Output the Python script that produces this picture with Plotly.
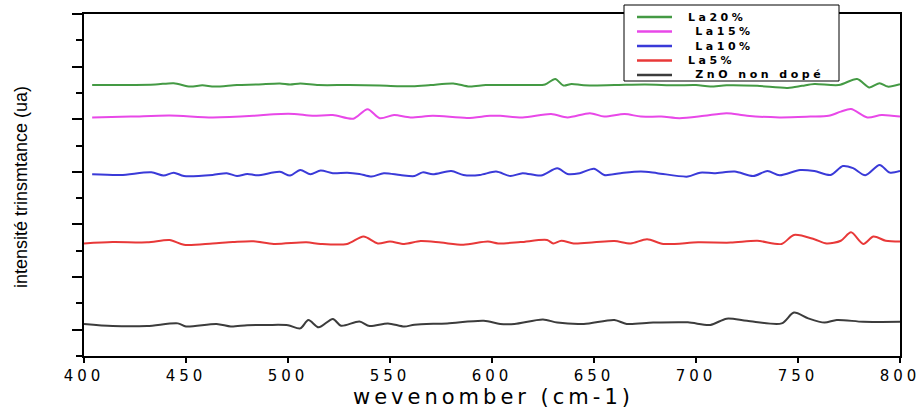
import plotly.graph_objects as go

# FTIR-style transmittance traces, offset vertically (arbitrary units)
wn_la20 = [404, 420, 435, 444, 452, 458, 464, 475, 485, 496, 501, 506, 515, 530, 545, 561, 570, 581, 589, 597,
           610, 620, 626, 631, 635, 639, 645, 660, 675, 690, 700, 707, 715, 730, 745, 752, 758, 770, 779, 785,
           790, 794, 800]
y_la20 = [10.30, 10.30, 10.32, 10.37, 10.24, 10.29, 10.24, 10.30, 10.32, 10.36, 10.32, 10.36, 10.30, 10.30,
          10.28, 10.25, 10.30, 10.36, 10.24, 10.30, 10.30, 10.30, 10.32, 10.53, 10.28, 10.34, 10.29, 10.30,
          10.32, 10.29, 10.30, 10.24, 10.29, 10.27, 10.19, 10.27, 10.34, 10.30, 10.53, 10.21, 10.37, 10.24, 10.33]

wn_la15 = [404, 423, 442, 463, 483, 493, 503, 512, 522, 532, 539, 545, 552, 560, 571, 588, 599, 604, 615, 629,
           637, 648, 655, 665, 673, 683, 692, 704, 715, 725, 741, 756, 765, 771, 776, 784, 791, 800]
y_la15 = [9.07, 9.10, 9.14, 9.07, 9.13, 9.19, 9.20, 9.13, 9.16, 9.02, 9.38, 9.04, 9.16, 9.07, 9.13, 9.05, 9.13,
          9.13, 9.07, 9.20, 9.07, 9.23, 9.10, 9.20, 9.10, 9.10, 9.04, 9.13, 9.23, 9.13, 9.07, 9.10, 9.13, 9.29,
          9.39, 9.07, 9.16, 9.10]

wn_la10 = [404, 418, 433, 439, 444, 449, 463, 470, 475, 480, 485, 496, 501, 506, 511, 516, 522, 529, 535, 541,
           547, 555, 562, 566, 571, 580, 586, 594, 602, 609, 615, 624, 632, 637, 643, 650, 655, 663, 673, 681,
           696, 702, 709, 719, 728, 735, 741, 751, 758, 766, 772, 777, 783, 790, 795, 800]
y_la10 = [6.91, 6.88, 6.98, 6.86, 6.97, 6.84, 6.88, 6.95, 6.84, 6.92, 6.87, 7.00, 6.86, 7.07, 6.91, 7.05, 6.95,
          6.97, 6.92, 6.82, 6.95, 6.88, 6.84, 6.98, 6.91, 7.03, 6.88, 6.88, 7.01, 6.84, 6.95, 6.86, 7.14, 6.92,
          6.95, 7.12, 6.88, 6.95, 7.01, 6.95, 6.82, 6.97, 6.95, 7.01, 6.84, 7.03, 6.87, 7.07, 7.03, 6.88, 7.22,
          7.14, 6.87, 7.26, 6.97, 7.03]

wn_la5 = [400, 414, 431, 442, 449, 463, 473, 483, 493, 509, 516, 529, 537, 544, 550, 557, 565, 575, 586, 598,
          603, 614, 627, 630, 634, 640, 650, 660, 668, 676, 684, 701, 717, 730, 742, 748, 758, 764, 771, 776,
          782, 787, 793, 800]
y_la5 = [4.28, 4.33, 4.32, 4.41, 4.23, 4.28, 4.33, 4.36, 4.26, 4.32, 4.26, 4.26, 4.54, 4.28, 4.35, 4.26, 4.37,
         4.31, 4.23, 4.35, 4.28, 4.33, 4.41, 4.28, 4.38, 4.28, 4.32, 4.37, 4.28, 4.44, 4.26, 4.32, 4.31, 4.38,
         4.26, 4.60, 4.44, 4.28, 4.38, 4.70, 4.26, 4.54, 4.38, 4.35]

wn_zno = [400, 414, 431, 446, 450, 465, 472, 480, 490, 500, 506, 510, 515, 522, 526, 535, 540, 549, 557, 562,
          578, 596, 604, 611, 625, 632, 645, 660, 666, 679, 696, 707, 715, 725, 742, 748, 755, 763, 769, 782, 800]
y_zno = [1.22, 1.14, 1.14, 1.24, 1.12, 1.22, 1.12, 1.17, 1.18, 1.17, 1.05, 1.37, 1.09, 1.41, 1.15, 1.31, 1.14,
         1.24, 1.12, 1.19, 1.24, 1.34, 1.22, 1.22, 1.39, 1.27, 1.22, 1.37, 1.22, 1.27, 1.28, 1.18, 1.42, 1.34,
         1.24, 1.65, 1.43, 1.27, 1.37, 1.30, 1.30]

series = [
    ("La20%", wn_la20, y_la20, "#449a44"),
    ("\u00a0La15%", wn_la15, y_la15, "#e848e8"),
    ("\u00a0La10%", wn_la10, y_la10, "#3a3ad8"),
    ("La5%", wn_la5, y_la5, "#e83838"),
    ("\u00a0ZnO non dopé", wn_zno, y_zno, "#3c3c3c"),
]

x_ticks = [400, 450, 500, 550, 600, 650, 700, 750, 800]

W, H = 923, 412
ML, MR, MT, MB = 84, 23, 14, 56
PW, PH = W - ML - MR, H - MT - MB


def px_x(p):
    return (p - ML) / PW


def px_y(p):
    return (H - MB - p) / PH


fig = go.Figure()
for name, xs, ys, color in series:
    fig.add_trace(go.Scatter(
        x=xs, y=ys, name=name, mode="lines", showlegend=False,
        line=dict(color=color, width=2, shape="spline", smoothing=0.8),
    ))

# Boxed key in the upper right corner, drawn with shapes and text
shapes = [dict(type="rect", xref="paper", yref="paper",
               x0=px_x(624), x1=px_x(839), y0=px_y(81), y1=px_y(5),
               fillcolor="white", line=dict(color="black", width=1), layer="above")]
annotations = []
row_y = [17, 31.5, 46, 60.5, 75]
for (name, _, _, color), ry in zip(series, row_y):
    shapes.append(dict(type="line", xref="paper", yref="paper",
                       x0=px_x(637), x1=px_x(672), y0=px_y(ry), y1=px_y(ry),
                       line=dict(color=color, width=2.5), layer="above"))
    annotations.append(dict(text='<span style="letter-spacing:3.5px">%s</span>' % name,
                            xref="paper", yref="paper", x=px_x(686), y=px_y(ry),
                            xanchor="left", yanchor="middle", showarrow=False,
                            font=dict(family="DejaVu Sans, sans-serif", size=11, color="black", weight="bold")))

annotations += [
    dict(text='<span style="letter-spacing:4px">wevenomber (cm-1)</span>', xref="paper", yref="paper",
         x=px_x(493), y=px_y(397), xanchor="center", yanchor="middle", showarrow=False,
         font=dict(family="DejaVu Sans, sans-serif", size=21, color="black")),
    dict(text="intensité trinsmtance (ua)", xref="paper", yref="paper", x=px_x(21), y=px_y(187),
         xanchor="center", yanchor="middle", showarrow=False, textangle=-90,
         font=dict(family="Liberation Sans Narrow, Liberation Sans, Arial, sans-serif", size=18, color="black")),
]

fig.update_layout(
    width=W, height=H,
    margin=dict(l=ML, r=MR, t=MT, b=MB, autoexpand=False),
    paper_bgcolor="white", plot_bgcolor="white",
    showlegend=False,
    xaxis=dict(
        range=[400, 800], tickvals=x_ticks, automargin=False,
        ticktext=['<span style="letter-spacing:4px">%d</span>' % v for v in x_ticks],
        showgrid=False, zeroline=False,
        showline=True, linecolor="black", linewidth=2, mirror=True,
        ticks="outside", ticklen=5, tickwidth=2, tickcolor="black",
        tickfont=dict(family="DejaVu Sans, sans-serif", size=15, color="black"),
    ),
    yaxis=dict(
        range=[0, 13], tick0=1, dtick=2, showticklabels=False, automargin=False,
        showgrid=False, zeroline=False,
        showline=True, linecolor="black", linewidth=2, mirror=True,
        ticks="outside", ticklen=10, tickwidth=2, tickcolor="black",
        minor=dict(dtick=1, tick0=0, ticks="outside", ticklen=6, tickwidth=2, tickcolor="black", showgrid=False),
    ),
    shapes=shapes,
    annotations=annotations,
)

fig.write_html("out.html")
